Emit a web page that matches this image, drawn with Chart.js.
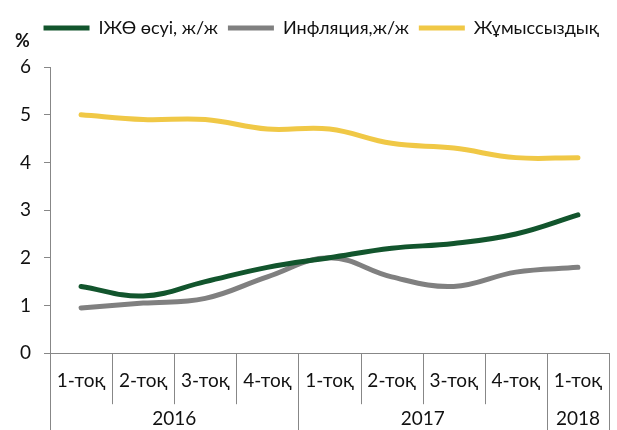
<!DOCTYPE html>
<html>
<head>
<meta charset="utf-8">
<script src="https://cdn.jsdelivr.net/npm/chart.js@4"></script>
<style>
  html, body { margin: 0; padding: 0; background: #fff; }
  #wrap { width: 617px; height: 430px; position: relative; }
</style>
</head>
<body>
<div id="wrap"><canvas id="chart"></canvas></div>
<script>
// --- Data ---
const quarters = ['1-тоқ', '2-тоқ', '3-тоқ', '4-тоқ', '1-тоқ', '2-тоқ', '3-тоқ', '4-тоқ', '1-тоқ'];
const years = ['2016', '2017', '2018'];
const yearSpans = [4, 4, 1];
const gdpGrowth = [1.4, 1.2, 1.5, 1.8, 2.0, 2.2, 2.3, 2.5, 2.9];
const inflation = [0.95, 1.05, 1.15, 1.6, 2.0, 1.6, 1.4, 1.7, 1.8];
const unemployment = [5.0, 4.9, 4.9, 4.7, 4.7, 4.4, 4.3, 4.1, 4.1];

const FONT = 'Lato';
const AXIS_COLOR = '#878787';

// extra room under the legend for the "%" label
const legendGap = {
    id: 'legendGap',
    beforeInit(chart) {
        const fit = chart.legend.fit;
        chart.legend.fit = function () {
            fit.call(this);
            this.height += 20;
        };
    }
};

// separators under the axis + year row + "%" label
const groupAxis = {
    id: 'groupAxis',
    afterDraw(chart) {
        const { ctx, chartArea, scales } = chart;
        const x = scales.x;
        const base = chartArea.bottom;
        const yearEdges = [0];
        yearSpans.reduce((acc, n) => { yearEdges.push(acc + n); return acc + n; }, 0);

        ctx.save();
        ctx.strokeStyle = AXIS_COLOR;
        ctx.lineWidth = 1;
        for (let i = 0; i <= quarters.length; i++) {
            const px = Math.round(x.getPixelForValue(i - 0.5)) + 0.5;
            const full = yearEdges.includes(i);
            ctx.beginPath();
            ctx.moveTo(px, base);
            ctx.lineTo(px, full ? 430 : base + 51);
            ctx.stroke();
        }

        ctx.fillStyle = '#111';
        ctx.font = `19px "${FONT}"`;
        ctx.textAlign = 'center';
        ctx.textBaseline = 'middle';
        let start = 0;
        years.forEach((yr, k) => {
            const a = x.getPixelForValue(start - 0.5);
            const b = x.getPixelForValue(start + yearSpans[k] - 0.5);
            ctx.fillText(yr, (a + b) / 2, base + 66);
            start += yearSpans[k];
        });

        ctx.font = `bold 18px "${FONT}"`;
        ctx.textAlign = 'left';
        ctx.fillText('%', 15, 41);
        ctx.restore();
    }
};

function lineSet(label, data, color) {
    return {
        label: label,
        data: data,
        borderColor: color,
        backgroundColor: color,
        borderWidth: 5,
        borderCapStyle: 'round',
        pointRadius: 0,
        pointHoverRadius: 0,
        tension: 0.4,
        fill: false
    };
}

new Chart(document.getElementById('chart'), {
    type: 'line',
    data: {
        labels: quarters,
        datasets: [
            lineSet('ІЖӨ өсуі, ж/ж', gdpGrowth, '#12552d'),
            lineSet('Инфляция,ж/ж', inflation, '#808080'),
            lineSet('Жұмыссыздық', unemployment, '#f0c846')
        ]
    },
    options: {
        responsive: true,
        maintainAspectRatio: false,
        animation: false,
        layout: { padding: { left: 0, right: 8, top: 9, bottom: 30 } },
        plugins: {
            tooltip: { enabled: false },
            legend: {
                position: 'top',
                align: 'end',
                labels: {
                    usePointStyle: true,
                    pointStyle: 'line',
                    pointStyleWidth: 46,
                    boxHeight: 18,
                    padding: 10,
                    color: '#111',
                    font: { family: FONT, size: 18 }
                }
            }
        },
        scales: {
            x: {
                offset: true,
                grid: { display: false, offset: true },
                border: { display: true, color: AXIS_COLOR, width: 1 },
                ticks: {
                    padding: 8,
                    maxRotation: 0,
                    autoSkip: false,
                    color: '#111',
                    font: { family: FONT, size: 19 }
                }
            },
            y: {
                min: 0,
                max: 6,
                afterFit(scale) { scale.width = 50; },
                ticks: {
                    stepSize: 1,
                    padding: 13,
                    color: '#111',
                    font: { family: FONT, size: 19 }
                },
                grid: { drawOnChartArea: false, tickLength: 6, color: AXIS_COLOR },
                border: { display: true, color: AXIS_COLOR, width: 1 }
            }
        }
    },
    plugins: [legendGap, groupAxis]
});
</script>
</body>
</html>
